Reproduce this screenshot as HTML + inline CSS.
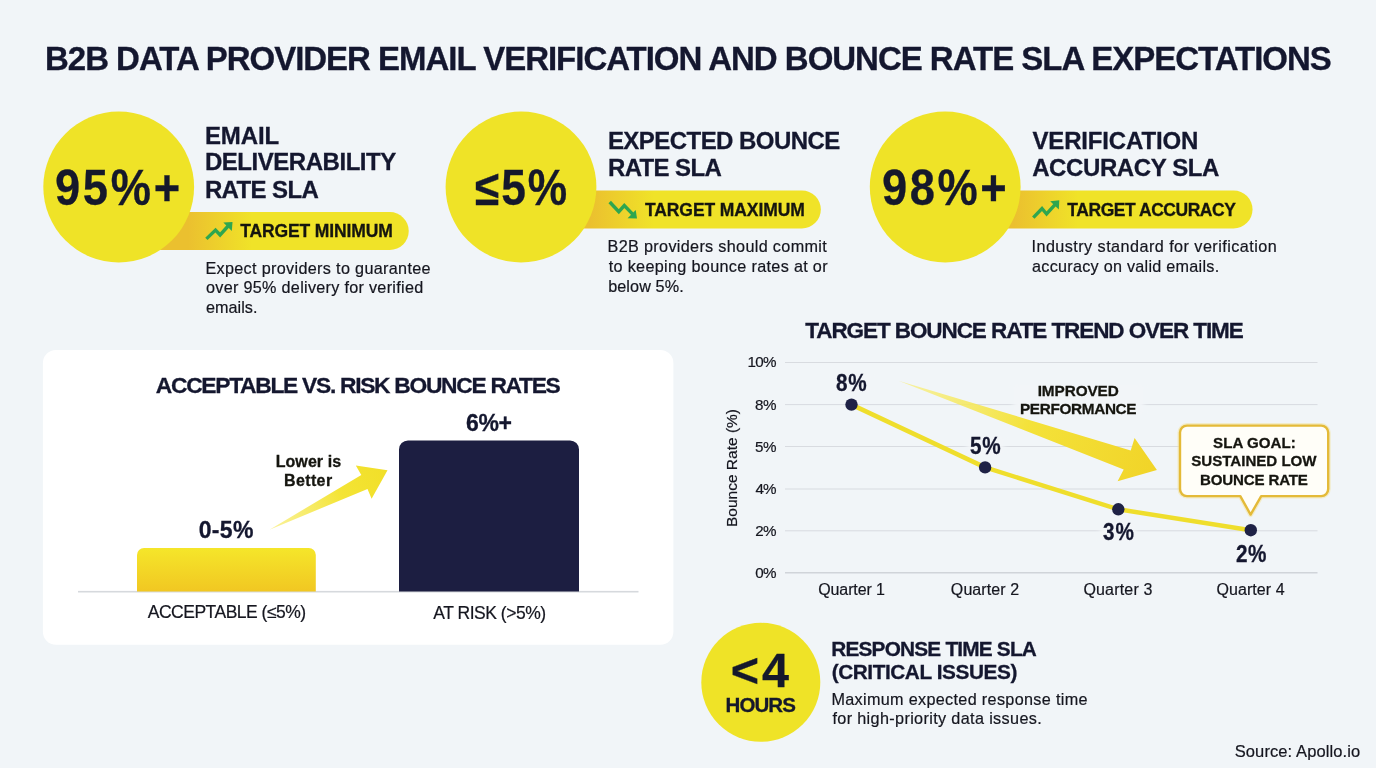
<!DOCTYPE html>
<html lang="en"><head><meta charset="utf-8"><title>B2B Data Provider Email Verification and Bounce Rate SLA Expectations</title>
<style>
html,body{margin:0;padding:0;}
body{width:1376px;height:768px;overflow:hidden;background:#f1f5f8;}
#page{position:relative;width:1376px;height:768px;overflow:hidden;background:#f1f5f8;font-family:"Liberation Sans",Arial,sans-serif;}
#page svg.bg{position:absolute;left:0;top:0;}
.t{position:absolute;white-space:pre;line-height:1;color:#14172f;font-weight:400;-webkit-text-stroke:0.2px currentColor;}
.b{font-weight:700;-webkit-text-stroke:0.3px currentColor;}
h1.t{margin:0;display:block;}

</style></head>
<body>
<div id="page">
<svg class="bg" width="1376" height="768" viewBox="0 0 1376 768">
  <defs>
    <linearGradient id="pill1" gradientUnits="userSpaceOnUse" x1="188" y1="0" x2="252" y2="0">
      <stop offset="0" stop-color="#ebc02f"/><stop offset="1" stop-color="#f0e328"/>
    </linearGradient>
    <linearGradient id="pill2" gradientUnits="userSpaceOnUse" x1="590" y1="0" x2="654" y2="0">
      <stop offset="0" stop-color="#ebc02f"/><stop offset="1" stop-color="#f0e328"/>
    </linearGradient>
    <linearGradient id="pill3" gradientUnits="userSpaceOnUse" x1="1014" y1="0" x2="1078" y2="0">
      <stop offset="0" stop-color="#ebc02f"/><stop offset="1" stop-color="#f0e328"/>
    </linearGradient>
    <linearGradient id="ybar" x1="0" y1="0" x2="0" y2="1">
      <stop offset="0" stop-color="#f5e62a"/><stop offset="1" stop-color="#f1c722"/>
    </linearGradient>
    <linearGradient id="arr1" gradientUnits="userSpaceOnUse" x1="270" y1="529" x2="388" y2="470">
      <stop offset="0" stop-color="#f8ee7a" stop-opacity="0.75"/><stop offset="0.6" stop-color="#f4e435"/><stop offset="1" stop-color="#f1df28"/>
    </linearGradient>
    <linearGradient id="arr2" gradientUnits="userSpaceOnUse" x1="898" y1="381" x2="1157" y2="470">
      <stop offset="0" stop-color="#f8ef80" stop-opacity="0.7"/><stop offset="0.5" stop-color="#f4e23a"/><stop offset="1" stop-color="#f1d428"/>
    </linearGradient>
    <filter id="soft" x="-20%" y="-20%" width="140%" height="140%"><feGaussianBlur stdDeviation="2.5"/></filter>
  </defs>

  <!-- KPI pills (under circles) -->
  <path d="M118 212.1 H389.8 a18.95 18.95 0 0 1 0 37.9 H118 Z" fill="url(#pill1)"/>
  <path d="M521 190.5 H801.9 a18.95 18.95 0 0 1 0 37.9 H521 Z" fill="url(#pill2)"/>
  <path d="M945 190.5 H1233.6 a18.95 18.95 0 0 1 0 37.9 H945 Z" fill="url(#pill3)"/>
  <!-- KPI circles -->
  <circle cx="118.7" cy="187" r="75.4" fill="#efe327"/>
  <circle cx="521" cy="187" r="75.4" fill="#efe327"/>
  <circle cx="945.2" cy="187" r="75.4" fill="#efe327"/>
  <circle cx="760.8" cy="682.3" r="59.5" fill="#efe327"/>

  <!-- trend icons -->
  <g fill="none" stroke="#2ea64f" stroke-width="3.4" stroke-linejoin="miter" stroke-linecap="butt">
    <polyline points="206.4,238.9 215.5,230.1 220.1,235 228.6,225.5"/>
    <polyline points="609.7,202 618.8,211.7 624.3,205.5 633.1,214.6"/>
    <polyline points="1033.3,217.6 1042,208.5 1046.6,214 1055.7,203.9"/>
  </g>
  <g fill="#2ea64f">
    <polygon points="223.3,222.6 232.5,222 231.8,231.1"/>
    <polygon points="635.7,210.1 637,218.6 627.6,218.2"/>
    <polygon points="1050.2,201.3 1059.3,200.3 1058.8,209.4"/>
  </g>

  <!-- bar chart card -->
  <rect x="42.9" y="349.9" width="630.5" height="294.9" rx="13" fill="#ffffff"/>
  <rect x="78" y="590.9" width="560.5" height="1.6" fill="#d6d9dd"/>
  <path d="M137 591.5 V555 a7 7 0 0 1 7 -7 H308.8 a7 7 0 0 1 7 7 V591.5 Z" fill="url(#ybar)"/>
  <path d="M399 591.5 V449.4 a9 9 0 0 1 9 -9 H570 a9 9 0 0 1 9 9 V591.5 Z" fill="#1c1e41"/>
  <polygon points="269.5,529.7 361.3,475 355.8,465.6 387.5,470.3 371.6,498.8 367.5,489" fill="url(#arr1)"/>

  <!-- line chart -->
  <g fill="#d8dbe0">
    <rect x="785" y="362" width="532.5" height="1"/>
    <rect x="785" y="404.1" width="532.5" height="1"/>
    <rect x="785" y="446" width="532.5" height="1"/>
    <rect x="785" y="488.5" width="532.5" height="1"/>
    <rect x="785" y="530.3" width="532.5" height="1"/>
    <rect x="785" y="572" width="532.5" height="1.5" fill="#d0d4d9"/>
  </g>
  <!-- label halos -->
  <g fill="#f2f5f8" filter="url(#soft)">
    <rect x="833" y="373" width="38" height="20"/>
    <rect x="967" y="436" width="37" height="20"/>
    <rect x="1100" y="522" width="36" height="20"/>
    <rect x="1233" y="544" width="36" height="20"/>
    <rect x="1013" y="384" width="131" height="31"/>
  </g>
  <polygon points="898.5,380.7 1130.7,450.5 1134.6,438 1156.9,470.1 1117.6,481.2 1123.7,469.4" fill="url(#arr2)"/>
  <path d="M851.5 404.6 L985.1 467.4 L1118.3 509.3 L1250.8 530.2" fill="none" stroke="#efde2c" stroke-width="4.5" stroke-linecap="round" stroke-linejoin="round"/>
  <g fill="#1f2246">
    <circle cx="851.5" cy="404.6" r="6.2"/>
    <circle cx="985.1" cy="467.4" r="6.2"/>
    <circle cx="1118.3" cy="509.3" r="6.2"/>
    <circle cx="1250.8" cy="530.2" r="6.2"/>
  </g>
  <!-- callout -->
  <path d="M1187 425.6 H1321.2 a7 7 0 0 1 7 7 V489.1 a7 7 0 0 1 -7 7 H1261.2 L1250.6 514.6 L1240.3 496.1 H1187 a7 7 0 0 1 -7 -7 V432.6 a7 7 0 0 1 7 -7 Z" fill="none" stroke="#f3e3a0" stroke-opacity="0.55" stroke-width="5" stroke-linejoin="round"/>
  <path d="M1187 425.6 H1321.2 a7 7 0 0 1 7 7 V489.1 a7 7 0 0 1 -7 7 H1261.2 L1250.6 514.6 L1240.3 496.1 H1187 a7 7 0 0 1 -7 -7 V432.6 a7 7 0 0 1 7 -7 Z" fill="#fffef8" stroke="#e4ba38" stroke-width="2.4" stroke-linejoin="round"/>
</svg>

<header aria-label="Page title">
  <h1 class="t b" style="left:45.00px;top:42.35px;font-size:33px;letter-spacing:-1.02px;">B2B DATA PROVIDER EMAIL VERIFICATION AND BOUNCE RATE SLA EXPECTATIONS</h1>
</header>
<section aria-label="Email deliverability rate SLA">
  <span class="t b" style="left:55.28px;top:162.88px;font-size:49.2px;letter-spacing:2.94px;transform:scaleX(0.92);transform-origin:0 0;color:#15182b;">95%+</span>
  <span class="t b" style="left:204.91px;top:124.30px;font-size:24px;letter-spacing:-0.08px;">EMAIL</span>
  <span class="t b" style="left:204.91px;top:149.70px;font-size:24px;letter-spacing:-0.46px;">DELIVERABILITY</span>
  <span class="t b" style="left:204.91px;top:178.10px;font-size:24px;letter-spacing:-0.62px;">RATE SLA</span>
  <span class="t b" style="left:240.35px;top:223.22px;font-size:17.5px;letter-spacing:-0.14px;color:#15150f;">TARGET MINIMUM</span>
  <span class="t" style="left:205.42px;top:260.03px;font-size:16.2px;letter-spacing:0.33px;color:#15161f;">Expect providers to guarantee</span>
  <span class="t" style="left:206.05px;top:278.63px;font-size:16.2px;letter-spacing:0.29px;color:#15161f;">over 95% delivery for verified</span>
  <span class="t" style="left:206.04px;top:299.13px;font-size:16.2px;letter-spacing:0.03px;color:#15161f;">emails.</span>
</section>
<section aria-label="Expected bounce rate SLA">
  <span class="t b" style="left:475.39px;top:162.88px;font-size:49.2px;letter-spacing:2.17px;transform:scaleX(0.9);transform-origin:0 0;color:#15182b;">≤5%</span>
  <span class="t b" style="left:607.91px;top:128.70px;font-size:24px;letter-spacing:-0.55px;">EXPECTED BOUNCE</span>
  <span class="t b" style="left:607.91px;top:156.40px;font-size:24px;letter-spacing:-0.61px;">RATE SLA</span>
  <span class="t b" style="left:645.00px;top:201.93px;font-size:17.5px;letter-spacing:-0.10px;color:#15150f;">TARGET MAXIMUM</span>
  <span class="t" style="left:607.58px;top:237.73px;font-size:16.2px;letter-spacing:0.33px;color:#15161f;">B2B providers should commit</span>
  <span class="t" style="left:608.68px;top:258.23px;font-size:16.2px;letter-spacing:0.33px;color:#15161f;">to keeping bounce rates at or</span>
  <span class="t" style="left:608.17px;top:277.73px;font-size:16.2px;letter-spacing:0.10px;color:#15161f;">below 5%.</span>
</section>
<section aria-label="Verification accuracy SLA">
  <span class="t b" style="left:881.68px;top:162.88px;font-size:49.2px;letter-spacing:2.82px;transform:scaleX(0.92);transform-origin:0 0;color:#15182b;">98%+</span>
  <span class="t b" style="left:1032.44px;top:128.70px;font-size:24px;letter-spacing:-0.16px;">VERIFICATION</span>
  <span class="t b" style="left:1032.14px;top:156.40px;font-size:24px;letter-spacing:-0.39px;">ACCURACY SLA</span>
  <span class="t b" style="left:1067.35px;top:201.93px;font-size:17.5px;letter-spacing:-0.46px;color:#15150f;">TARGET ACCURACY</span>
  <span class="t" style="left:1031.49px;top:237.73px;font-size:16.2px;letter-spacing:0.45px;color:#15161f;">Industry standard for verification</span>
  <span class="t" style="left:1032.09px;top:258.23px;font-size:16.2px;letter-spacing:0.26px;color:#15161f;">accuracy on valid emails.</span>
</section>
<section aria-label="Acceptable vs. risk bounce rates chart">
  <span class="t b" style="left:155.82px;top:373.92px;font-size:22.8px;letter-spacing:-1.29px;">ACCEPTABLE VS. RISK BOUNCE RATES</span>
  <span class="t b" style="left:466.09px;top:411.75px;font-size:23px;letter-spacing:-0.47px;">6%+</span>
  <span class="t b" style="left:198.75px;top:518.85px;font-size:23px;letter-spacing:0.31px;">0-5%</span>
  <span class="t b" style="left:275.67px;top:454.10px;font-size:16px;letter-spacing:0.08px;color:#15150f;">Lower is</span>
  <span class="t b" style="left:283.99px;top:473.30px;font-size:16px;letter-spacing:0.38px;color:#15150f;">Better</span>
  <span class="t" style="left:147.80px;top:604.42px;font-size:17.5px;letter-spacing:-0.50px;color:#15161f;">ACCEPTABLE (≤5%)</span>
  <span class="t" style="left:433.34px;top:605.12px;font-size:17.5px;letter-spacing:-0.48px;color:#15161f;">AT RISK (&gt;5%)</span>
</section>
<section aria-label="Target bounce rate trend over time chart">
  <div class="t" style="left:712px;top:409px;width:40px;height:118px;"><span class="t" style="left:20px;top:59px;font-size:15.5px;color:#15161f;transform:translate(-50%,-50%) rotate(-90deg);">Bounce Rate (%)</span></div>
  <span class="t b" style="left:805.26px;top:319.77px;font-size:22.5px;letter-spacing:-1.08px;">TARGET BOUNCE RATE TREND OVER TIME</span>
  <span class="t" style="left:747.61px;top:354.48px;font-size:15.2px;letter-spacing:-0.72px;color:#15161f;">10%</span>
  <span class="t" style="left:755.02px;top:396.98px;font-size:15.2px;letter-spacing:-0.39px;color:#15161f;">8%</span>
  <span class="t" style="left:755.02px;top:438.98px;font-size:15.2px;letter-spacing:-0.39px;color:#15161f;">5%</span>
  <span class="t" style="left:755.58px;top:480.98px;font-size:15.2px;letter-spacing:-0.95px;color:#15161f;">4%</span>
  <span class="t" style="left:755.16px;top:522.98px;font-size:15.2px;letter-spacing:-0.53px;color:#15161f;">2%</span>
  <span class="t" style="left:755.25px;top:565.28px;font-size:15.2px;letter-spacing:-0.62px;color:#15161f;">0%</span>
  <span class="t" style="left:818.25px;top:582.20px;font-size:16px;letter-spacing:-0.12px;color:#15161f;">Quarter 1</span>
  <span class="t" style="left:950.85px;top:582.20px;font-size:16px;letter-spacing:0.09px;color:#15161f;">Quarter 2</span>
  <span class="t" style="left:1083.42px;top:582.20px;font-size:16px;letter-spacing:0.18px;color:#15161f;">Quarter 3</span>
  <span class="t" style="left:1216.42px;top:582.20px;font-size:16px;letter-spacing:0.09px;color:#15161f;">Quarter 4</span>
  <span class="t b" style="left:836.01px;top:371.75px;font-size:23px;letter-spacing:0.74px;transform:scaleX(0.9);transform-origin:0 0;">8%</span>
  <span class="t b" style="left:969.85px;top:434.65px;font-size:23px;letter-spacing:0.71px;transform:scaleX(0.9);transform-origin:0 0;">5%</span>
  <span class="t b" style="left:1102.85px;top:520.55px;font-size:23px;letter-spacing:1.03px;transform:scaleX(0.9);transform-origin:0 0;">3%</span>
  <span class="t b" style="left:1235.69px;top:542.95px;font-size:23px;letter-spacing:0.48px;transform:scaleX(0.9);transform-origin:0 0;">2%</span>
  <span class="t b" style="left:1037.69px;top:382.69px;font-size:15.3px;letter-spacing:-0.07px;color:#15150f;">IMPROVED</span>
  <span class="t b" style="left:1020.01px;top:400.69px;font-size:15.3px;letter-spacing:-0.33px;color:#15150f;">PERFORMANCE</span>
  <span class="t b" style="left:1213.07px;top:435.47px;font-size:15.1px;letter-spacing:0.03px;color:#15150f;">SLA GOAL:</span>
  <span class="t b" style="left:1191.31px;top:452.67px;font-size:15.1px;letter-spacing:-0.02px;color:#15150f;">SUSTAINED LOW</span>
  <span class="t b" style="left:1200.08px;top:471.97px;font-size:15.1px;letter-spacing:-0.18px;color:#15150f;">BOUNCE RATE</span>
</section>
<section aria-label="Response time SLA">
  <span class="t b" style="left:730.83px;top:645.77px;font-size:48.5px;letter-spacing:2.97px;color:#15182b;">&lt;4</span>
  <span class="t b" style="left:725.49px;top:695.18px;font-size:20.5px;letter-spacing:-0.91px;color:#15182b;">HOURS</span>
  <span class="t b" style="left:831.26px;top:639.12px;font-size:20.8px;letter-spacing:-0.80px;">RESPONSE TIME SLA</span>
  <span class="t b" style="left:831.65px;top:662.02px;font-size:20.8px;letter-spacing:-0.43px;">(CRITICAL ISSUES)</span>
  <span class="t" style="left:831.41px;top:691.43px;font-size:16.2px;letter-spacing:0.33px;color:#15161f;">Maximum expected response time</span>
  <span class="t" style="left:832.43px;top:709.73px;font-size:16.2px;letter-spacing:0.36px;color:#15161f;">for high-priority data issues.</span>
</section>
<footer aria-label="Source">
  <span class="t" style="left:1234.73px;top:742.98px;font-size:16.5px;letter-spacing:0.10px;color:#15161f;">Source: Apollo.io</span>
</footer>
</div>
</body></html>
